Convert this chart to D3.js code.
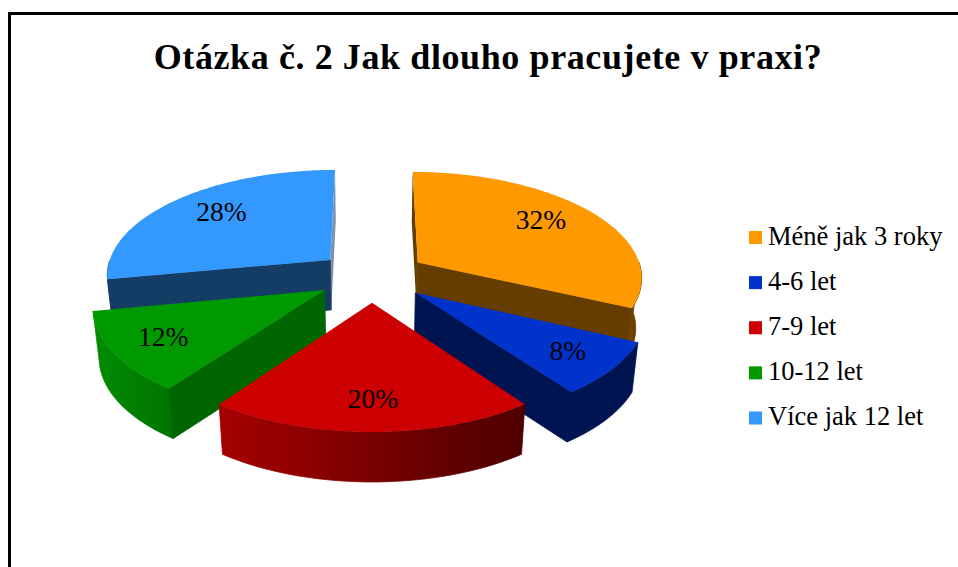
<!DOCTYPE html>
<html>
<head>
<meta charset="utf-8">
<script src="https://cdn.jsdelivr.net/npm/d3@7"></script>
<style>
  html, body { margin: 0; padding: 0; background: #fff; }
  svg { display: block; }
  text { font-family: "Liberation Serif", serif; fill: #000; }
</style>
</head>
<body>
<div id="chart"></div>
<script>
const titleText = 'Otázka č. 2 Jak dlouho pracujete v praxi?'
const categories = ['Méně jak 3 roky', '4-6 let', '7-9 let', '10-12 let', 'Více jak 12 let']
const values = [32, 8, 20, 12, 28]
const topColors = ['#ff9900', '#0033cc', '#cc0000', '#009900', '#3399ff']
const cutColors = ['#663d00', '#001452', '#520000', '#006600', '#143d66']
const wallLeft = ['#7a4a00', '#001452', '#a60000', '#008c00', '#1f5c99']
const wallRight = ['#5c3700', '#001452', '#4d0000', '#007400', '#143d66']

const width = 958, height = 567

const svg = d3.select('#chart').append('svg')
    .attr('width', width)
    .attr('height', height)

// frame, open at the bottom of the picture
svg.append('path')
    .attr('d', `M9.5,${height}V13.5H${width}`)
    .attr('fill', 'none')
    .attr('stroke', '#000')
    .attr('stroke-width', 3)

svg.append('text')
    .attr('x', 488)
    .attr('y', 69)
    .attr('text-anchor', 'middle')
    .style('font-size', '36px')
    .style('font-weight', 'bold')
    .style('letter-spacing', '0.6px')
    .text(titleText)

// tilted pie: plane coordinates (radius 1) to screen, far side smaller
const pie3d = {cx: 372, cy: 276, rx: 225, ry: 105.3, persp: 0.128, depth: 50, shrink: 0.978, explode: 0.245}

function project(x, y, bottom) {
    const w = 1 + pie3d.persp * y
    let sx = pie3d.rx * x / w
    const sy = pie3d.cy - pie3d.ry * y / w
    if (bottom) sx *= pie3d.shrink
    return [pie3d.cx + sx, sy + (bottom ? pie3d.depth : 0)]
}

const arcs = d3.pie().sort(null).value(d => d)(values)
const line = d3.line()

arcs.forEach((d, i) => {
    const mid = (d.startAngle + d.endAngle) / 2
    d.index = i
    d.ox = pie3d.explode * Math.sin(mid)
    d.oy = pie3d.explode * Math.cos(mid)
    d.at = (a, r, bottom) => project(d.ox + r * Math.sin(a), d.oy + r * Math.cos(a), bottom)
    const steps = Math.ceil((d.endAngle - d.startAngle) / 0.02)
    d.sweep = d3.range(steps + 1).map(k => d.startAngle + (d.endAngle - d.startAngle) * k / steps)
})

const defs = svg.append('defs')
arcs.forEach(d => {
    const g = defs.append('linearGradient')
        .attr('id', `wall-${d.index}`)
    g.append('stop').attr('offset', '0%').attr('stop-color', wallLeft[d.index])
    g.append('stop').attr('offset', '100%').attr('stop-color', wallRight[d.index])
})

// back slices first, the front ones cover their walls
const pieGroup = svg.append('g')
const order = [4, 0, 3, 1, 2]

order.forEach(i => {
    const d = arcs[i]
    const g = pieGroup.append('g')

    // outer wall, only the part that faces the viewer
    const front = d.sweep.filter(a => Math.cos(a) < 0)
    if (front.length > 1) {
        const wall = front.map(a => d.at(a, 1, false))
            .concat(front.slice().reverse().map(a => d.at(a, 1, true)))
        g.append('path')
            .attr('d', line(wall) + 'Z')
            .attr('fill', `url(#wall-${i})`)
            .attr('stroke', `url(#wall-${i})`)
            .attr('stroke-width', 0.8)
    }

    // cut faces that face the viewer; the ones at the top of the pie are thin slivers
    const cuts = []
    if (Math.sin(d.startAngle) <= 1e-6) cuts.push(d.startAngle)
    if (Math.sin(d.endAngle) >= -1e-6) cuts.push(d.endAngle)
    cuts.forEach(a => {
        const sliver = Math.abs(Math.sin(a)) < 1e-6
        const face = [d.at(a, 0, false), d.at(a, 1, false), d.at(a, 1, true), d.at(a, 0, true)]
        g.append('path')
            .attr('d', line(face) + 'Z')
            .attr('fill', cutColors[i])
            .attr('fill-opacity', sliver && i === 4 ? 0.55 : 1)
            .attr('stroke', sliver ? 'none' : cutColors[i])
            .attr('stroke-width', 0.8)
    })

    // top face
    const top = [d.at(0, 0, false)].concat(d.sweep.map(a => d.at(a, 1, false)))
    g.append('path')
        .attr('d', line(top) + 'Z')
        .attr('fill', topColors[i])
})

// small hand nudges, the labels don't sit at one fixed radius in the original
const labelNudge = [[-8, -4], [8, 2], [1, 3], [-6, 0], [9, -3]]

svg.append('g').selectAll('text')
    .data(arcs)
    .join('text')
    .attr('x', d => d.at((d.startAngle + d.endAngle) / 2, 0.75, false)[0] + labelNudge[d.index][0])
    .attr('y', d => d.at((d.startAngle + d.endAngle) / 2, 0.75, false)[1] + labelNudge[d.index][1])
    .attr('dy', '0.34em')
    .attr('text-anchor', 'middle')
    .style('font-size', '27.5px')
    .text(d => d.data + '%')

// legend
const legendY = d3.scalePoint().domain(categories).range([237.5, 418])

const legend = svg.append('g').selectAll('g')
    .data(categories)
    .join('g')
    .attr('transform', d => `translate(749,${legendY(d)})`)

legend.append('rect')
    .attr('y', -6.5)
    .attr('width', 13)
    .attr('height', 13)
    .attr('fill', (d, i) => topColors[i])

legend.append('text')
    .attr('x', 19)
    .attr('dy', '0.28em')
    .style('font-size', '26.5px')
    .text(d => d)
</script>
</body>
</html>
